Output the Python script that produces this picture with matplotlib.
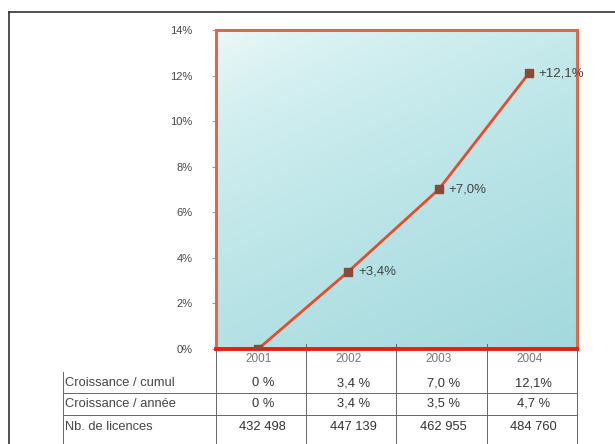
import numpy as np
import matplotlib.pyplot as plt
from matplotlib.lines import Line2D
from matplotlib.colors import LinearSegmentedColormap

plt.rcParams['font.family'] = ['Liberation Sans', 'DejaVu Sans']

# Données
annees = ['2001', '2002', '2003', '2004']
croissance_cumul = [0.0, 3.4, 7.0, 12.1]
etiquettes_points = ['', '+3,4%', '+7,0%', '+12,1%']
lignes_tableau = ['Croissance / cumul', 'Croissance / année', 'Nb. de licences']
cumul_txt = ['0 %', '3,4 %', '7,0 %', '12,1%']
annee_txt = ['0 %', '3,4 %', '3,5 %', '4,7 %']
licences_txt = ['432 498', '447 139', '462 955', '484 760']
y_ticks = [0, 2, 4, 6, 8, 10, 12, 14]

fig = plt.figure(figsize=(6.15, 4.44), dpi=100)
ax = fig.add_axes([0.3512, 0.214, 0.587, 0.7185])

x = np.arange(len(annees))
dx = -0.033  # les points sont un peu à gauche du centre des colonnes
ax.set_xlim(-0.5, len(annees) - 0.5)
ax.set_ylim(0, 14)

# fond dégradé (clair en haut à gauche, bleu-vert en bas)
g = np.linspace(0, 1, 200)
gx, gy = np.meshgrid(g, g)
grad = (0.65 * gy + 0.35 * gx) ** 0.6
cmap = LinearSegmentedColormap.from_list('fond', ['#f2fafa', '#c9ebed', '#a3d9dd'])
ax.imshow(grad, extent=[0, 1, 0, 1], transform=ax.transAxes, cmap=cmap,
          aspect='auto', origin='upper', zorder=0)

ax.plot(x + dx, croissance_cumul, color='#e84a2a', lw=2, zorder=3)
ax.plot(x + dx, croissance_cumul, 's', color='#8b4a35', ms=5.5, zorder=4)
for xi, yi, lab in zip(x + dx, croissance_cumul, etiquettes_points):
    if lab:
        ax.text(xi + 0.11, yi, lab, ha='left', va='center', fontsize=9.5, color='#444444', zorder=5)

# axes
for s in ['top', 'left', 'right']:
    ax.spines[s].set_color('#db6a4c')
    ax.spines[s].set_linewidth(2.2)
ax.spines['bottom'].set_color('#e81e10')
ax.spines['bottom'].set_linewidth(2.8)
ax.set_xticks([])
ax.set_yticks(y_ticks)
ax.set_yticklabels([f'{v}%' for v in y_ticks])
ax.tick_params(axis='y', length=3, width=0.6, color='#888888', pad=14,
               labelsize=8, labelcolor='#444444')

# tableau sous le graphique
tr = ax.get_xaxis_transform()
lc = '#666666'
y_bas = -0.30
y_rows = [-0.107, -0.172, -0.245]
x_gauche = -2.2
for xv in np.arange(-0.5, len(annees), 1.0):
    ax.add_line(Line2D([xv, xv], [0.015, y_bas], transform=tr, color=lc, lw=0.7, clip_on=False))
ax.add_line(Line2D([x_gauche, x_gauche], [-0.072, y_bas], transform=tr, color=lc, lw=0.7, clip_on=False))
for yl in [-0.138, -0.207]:
    ax.add_line(Line2D([x_gauche, len(annees) - 0.5], [yl, yl], transform=tr, color=lc, lw=0.7, clip_on=False))

for xi, an in zip(x, annees):
    ax.text(xi - 0.03, -0.031, an, transform=tr, ha='center', va='center', fontsize=8.5, color='#777777')
for yr, lab in zip(y_rows, lignes_tableau):
    ax.text(x_gauche + 0.03, yr, lab, transform=tr, ha='left', va='center', fontsize=9.3, color='#444444')
for vals, yr in zip([cumul_txt, annee_txt, licences_txt], y_rows):
    for xi, v in zip(x, vals):
        ax.text(xi + 0.02, yr, v, transform=tr, ha='center', va='center', fontsize=9.3, color='#333333')

# cadre extérieur
fig.add_artist(Line2D([9 / 615, 9 / 615], [0, 1 - 12 / 444], transform=fig.transFigure, color='#333333', lw=1.2))
fig.add_artist(Line2D([9 / 615, 1], [1 - 12 / 444, 1 - 12 / 444], transform=fig.transFigure, color='#333333', lw=1.2))

fig.savefig('out.png', dpi=100)
